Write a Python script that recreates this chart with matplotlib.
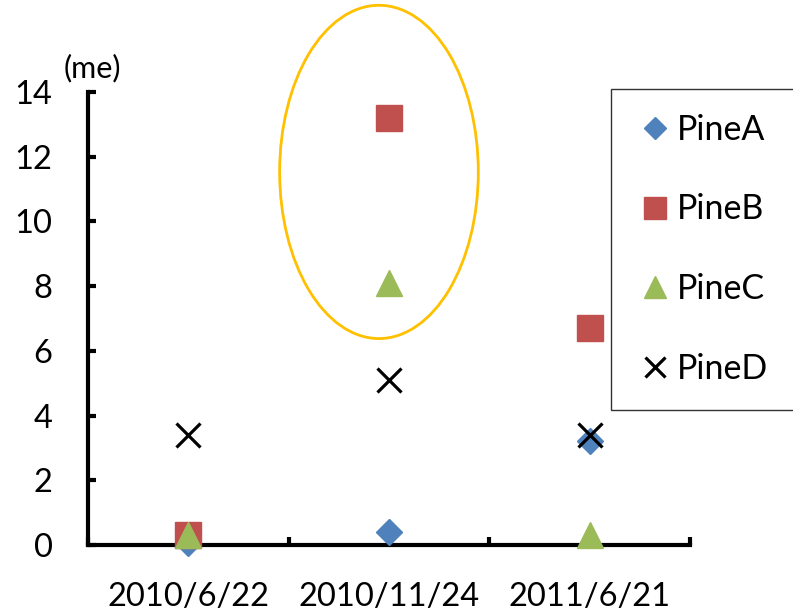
import matplotlib.pyplot as plt
from matplotlib.patches import Ellipse

plt.rcParams['font.family'] = ['Lato', 'DejaVu Sans']

# データ
dates = ["2010/6/22", "2010/11/24", "2011/6/21"]
pine_a = [0.05, 0.4, 3.2]
pine_b = [0.3, 13.2, 6.7]
pine_c = [0.3, 8.1, 0.3]
pine_d = [3.4, 5.1, 3.4]
y_ticks = [0, 2, 4, 6, 8, 10, 12, 14]

fig = plt.figure(figsize=(7.93, 6.13), dpi=100)
ax = fig.add_axes([88 / 793, 68 / 613, 602 / 793, 453 / 613])

x = list(range(len(dates)))
kw = dict(linestyle="none", clip_on=False, zorder=5)
ax.plot(x, pine_a, marker="D", ms=13, color="#4F81BD", mec="#4F81BD", label="PineA", **kw)
ax.plot(x, pine_b, marker="s", ms=18.5, color="#C0504D", mec="#C0504D", label="PineB", **kw)
ax.plot(x, pine_c, marker="^", ms=19, color="#9BBB59", mec="#9BBB59", label="PineC", **kw)
ax.plot(x, pine_d, marker="x", ms=17, color="black", mew=2.3, label="PineD", **kw)

# 強調の楕円
ell = Ellipse((0.95, 11.53), 0.99, 10.3, fill=False, edgecolor="#FFC000",
              linewidth=2, clip_on=False, zorder=4)
ax.add_patch(ell)

ax.set_xlim(-0.5, 2.5)
ax.set_ylim(0, 14)
ax.set_yticks(y_ticks)
ax.set_xticks(x)
ax.set_xticklabels(dates)
ax.set_xticks([-0.5, 0.5, 1.5, 2.5], minor=True)

for s in ["top", "right"]:
    ax.spines[s].set_visible(False)
for s in ["left", "bottom"]:
    ax.spines[s].set_linewidth(3)

ax.tick_params(axis="y", direction="in", length=6, width=3, labelsize=23.5, pad=25.5)
ax.tick_params(axis="x", which="major", length=0, labelsize=23.5, pad=27)
ax.tick_params(axis="x", which="minor", direction="in", length=6, width=3)

fig.text(92 / 793, 1 - 68 / 613, "(me)", fontsize=22, ha="center", va="center")

top = 1 - 89 / 613
leg = ax.legend(loc="upper left", bbox_to_anchor=(611 / 793, top - 0.1, 0.3, 0.1),
                bbox_transform=fig.transFigure, mode="expand", fontsize=24.5,
                frameon=True, fancybox=False, edgecolor="black", borderpad=0.73,
                labelspacing=1.4, handlelength=1.1, handletextpad=0.1,
                markerscale=0.85, borderaxespad=0)
leg.get_frame().set_linewidth(1)

fig.savefig("out.png", dpi=100)
